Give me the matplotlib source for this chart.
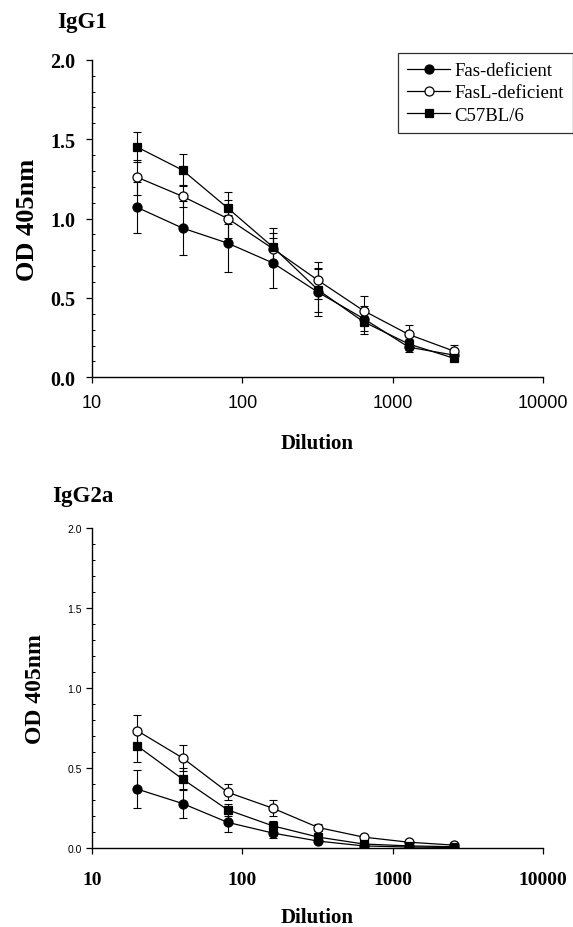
import matplotlib
matplotlib.use("Agg")
import matplotlib.pyplot as plt
from matplotlib.ticker import MultipleLocator, FixedLocator

dilution = [20, 40, 80, 160, 320, 640, 1280, 2560]
groups = ["Fas-deficient", "FasL-deficient", "C57BL/6"]

# IgG1 (top panel)
igg1_fas = [1.07, 0.94, 0.845, 0.72, 0.535, 0.37, 0.19, 0.14]
igg1_fas_err = [0.16, 0.17, 0.18, 0.16, 0.15, 0.08, 0.03, 0.02]
igg1_fasl = [1.26, 1.14, 1.0, 0.81, 0.61, 0.42, 0.27, 0.165]
igg1_fasl_err = [0.11, 0.07, 0.12, 0.10, 0.115, 0.09, 0.06, 0.04]
igg1_c57 = [1.45, 1.305, 1.066, 0.82, 0.55, 0.35, 0.21, 0.12]
igg1_c57_err = [0.095, 0.10, 0.10, 0.12, 0.14, 0.08, 0.03, 0.02]

# IgG2a (bottom panel)
igg2a_fas = [0.37, 0.28, 0.162, 0.095, 0.045, 0.015, 0.008, 0.005]
igg2a_fas_err = [0.12, 0.09, 0.06, 0.03, 0.01, 0.005, 0.003, 0.002]
igg2a_fasl = [0.735, 0.565, 0.35, 0.25, 0.13, 0.07, 0.038, 0.02]
igg2a_fasl_err = [0.10, 0.08, 0.05, 0.05, 0.02, 0.01, 0.005, 0.004]
igg2a_c57 = [0.64, 0.433, 0.24, 0.14, 0.07, 0.027, 0.015, 0.01]
igg2a_c57_err = [0.10, 0.07, 0.04, 0.03, 0.01, 0.005, 0.003, 0.002]

x_ticks = [10, 100, 1000, 10000]
x_labels = ["10", "100", "1000", "10000"]
y_ticks = [0.0, 0.5, 1.0, 1.5, 2.0]
y_labels = ["0.0", "0.5", "1.0", "1.5", "2.0"]

serif = "Liberation Serif"
sans = "Liberation Sans"

styles = [
    dict(marker="o", mfc="black", ms=6.5),
    dict(marker="o", mfc="white", ms=6.5),
    dict(marker="s", mfc="black", ms=5.3),
]

fig = plt.figure(figsize=(5.73, 9.28), dpi=100)
ax1 = fig.add_axes([0.1606, 0.5923, 0.787, 0.3422])
ax2 = fig.add_axes([0.1606, 0.0848, 0.787, 0.3448])


def draw(ax, series, errs):
    handles = []
    for vals, err, st, name in zip(series, errs, styles, groups):
        ax.errorbar(dilution, vals, yerr=err, fmt="none", ecolor="black",
                    elinewidth=0.8, capsize=2.6, capthick=0.8, zorder=2)
        h, = ax.plot(dilution, vals, color="black", lw=0.9, marker=st["marker"],
                     mfc=st["mfc"], mec="black", mew=0.9, ms=st["ms"],
                     label=name, zorder=3)
        handles.append(h)
    ax.set_xscale("log")
    ax.set_xlim(10, 10000)
    ax.set_ylim(0, 2.0)
    ax.xaxis.set_major_locator(FixedLocator(x_ticks))
    ax.xaxis.set_minor_locator(FixedLocator([]))
    ax.set_yticks(y_ticks)
    ax.yaxis.set_minor_locator(MultipleLocator(0.1))
    ax.spines["top"].set_visible(False)
    ax.spines["right"].set_visible(False)
    for s in ["left", "bottom"]:
        ax.spines[s].set_linewidth(1.0)
    ax.tick_params(axis="both", which="major", direction="out", length=4, width=0.9)
    ax.tick_params(axis="y", which="minor", direction="in", length=2.5, width=0.7)
    return handles


handles = draw(ax1, [igg1_fas, igg1_fasl, igg1_c57],
               [igg1_fas_err, igg1_fasl_err, igg1_c57_err])
ax1.set_xticklabels(x_labels, fontfamily=sans, fontsize=13)
ax1.set_yticklabels(y_labels, fontfamily=serif, fontweight="bold", fontsize=14.5)
ax1.tick_params(axis="y", pad=8)
ax1.tick_params(axis="x", pad=8)
ax1.set_ylabel("OD 405nm", fontfamily=serif, fontweight="bold", fontsize=19,
               labelpad=8)
ax1.set_xlabel("Dilution", fontfamily=serif, fontweight="bold", fontsize=15,
               labelpad=16)
leg = ax1.legend(handles=handles, loc="upper left", bbox_to_anchor=(0.678, 1.022),
                 prop={"family": serif, "size": 13.5}, frameon=True, fancybox=False,
                 edgecolor="black", borderpad=0.5, handlelength=2.3,
                 handletextpad=0.2, labelspacing=0.27, borderaxespad=0)
leg.get_frame().set_linewidth(0.9)
ax1.text(-0.078, 1.122, "IgG1", transform=ax1.transAxes, fontfamily=serif,
         fontweight="bold", fontsize=16.5, va="center")

draw(ax2, [igg2a_fas, igg2a_fasl, igg2a_c57],
     [igg2a_fas_err, igg2a_fasl_err, igg2a_c57_err])
ax2.set_xticklabels(x_labels, fontfamily=serif, fontweight="bold", fontsize=14)
ax2.set_yticklabels(y_labels, fontfamily=sans, fontsize=7.5)
ax2.tick_params(axis="x", pad=12)
ax2.set_ylabel("OD 405nm", fontfamily=serif, fontweight="bold", fontsize=17,
               labelpad=15)
ax2.set_xlabel("Dilution", fontfamily=serif, fontweight="bold", fontsize=15,
               labelpad=14)
ax2.text(-0.089, 1.102, "IgG2a", transform=ax2.transAxes, fontfamily=serif,
         fontweight="bold", fontsize=16.5, va="center")

fig.savefig("out.png", dpi=100)
